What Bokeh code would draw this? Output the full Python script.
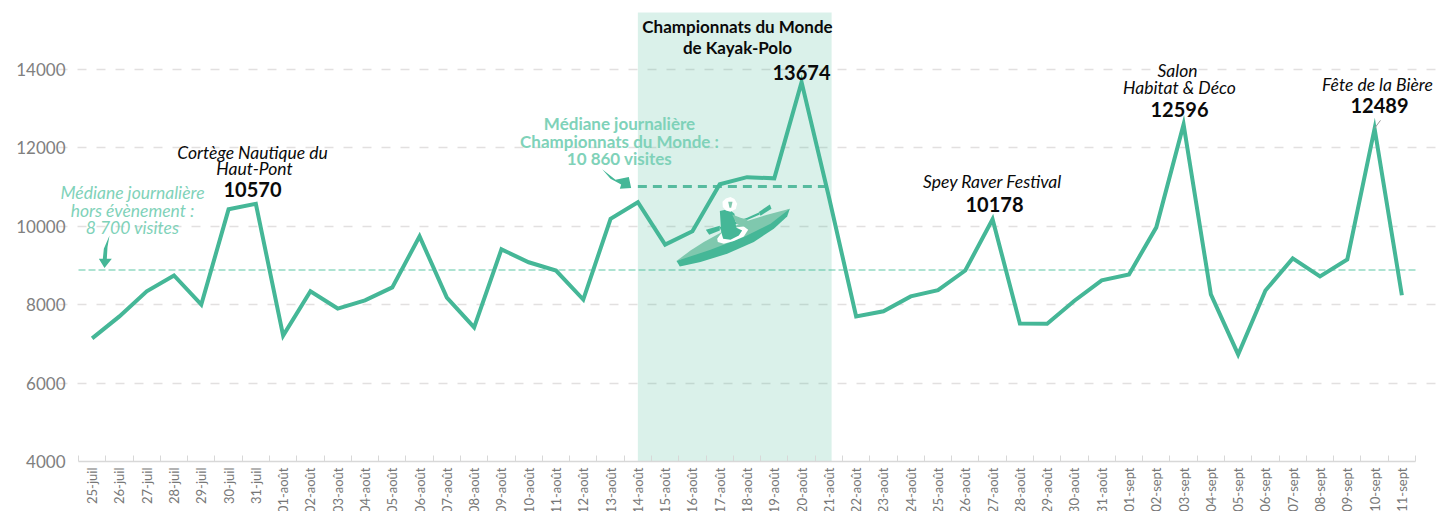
from bokeh.plotting import figure
from bokeh.embed import file_html
from bokeh.resources import INLINE
from bokeh.models import BoxAnnotation, FixedTicker, Label, PolyAnnotation

DATES = ["25-juil","26-juil","27-juil","28-juil","29-juil","30-juil","31-juil",
         "01-août","02-août","03-août","04-août","05-août","06-août","07-août","08-août","09-août","10-août",
         "11-août","12-août","13-août","14-août","15-août","16-août","17-août","18-août","19-août","20-août",
         "21-août","22-août","23-août","24-août","25-août","26-août","27-août","28-août","29-août","30-août","31-août",
         "01-sept","02-sept","03-sept","04-sept","05-sept","06-sept","07-sept","08-sept","09-sept","10-sept","11-sept"]
VISITS = [7140,7700,8340,8745,8000,10430,10570,
          7210,8340,7900,8110,8440,9740,8180,7420,9410,9080,
          8870,8130,10190,10610,9530,9870,11070,11250,11220,13674,
          10750,7700,7830,8210,8370,8870,10178,7520,7510,8100,8620,
          8770,9970,12596,8260,6730,8360,9180,8720,9150,12489,8240]
Y_TICKS = [4000,6000,8000,10000,12000,14000]
MEDIAN_OFF = 8880     # as drawn in the picture
MEDIAN_EVENT = 11015  # as drawn in the picture
EVENT_START, EVENT_END = 20, 27.1

GREEN = "#45b797"
SOFT = "#7fd2b9"
BLACK = "#0a0a0a"
FONT = "Lato"
AXIS_BOUNDS = (-0.5, 48.5)

# The frame runs wider than the axis so that the annotations near the edges are not clipped.
LEFT, RIGHT = 58, 1436
STEP = 27.286
ORIGIN = 91.64


def to_idx(px):
    return (px - ORIGIN) / STEP


def to_val(py):
    return 4000 + (461 - py) / 0.0392


p = figure(frame_width=RIGHT - LEFT, frame_height=451, x_range=(to_idx(LEFT), to_idx(RIGHT)), y_range=(4000, 15500),
           output_backend="svg", toolbar_location=None, min_border_left=LEFT, min_border_top=10,
           min_border_right=0, min_border_bottom=0, outline_line_color=None, background_fill_color="white")

p.xgrid.visible = False
p.ygrid.ticker = FixedTicker(ticks=Y_TICKS[1:])
p.ygrid.bounds = AXIS_BOUNDS
p.ygrid.grid_line_color = "#e2e0e0"
p.ygrid.grid_line_width = 1.5
p.ygrid.grid_line_dash = "9 10"

ax = p.xaxis[0]
ax.bounds = AXIS_BOUNDS
ax.ticker = FixedTicker(ticks=list(range(len(DATES))), minor_ticks=[i - 0.5 for i in range(len(DATES) + 1)])
ax.major_label_overrides = {i: d for i, d in enumerate(DATES)}
ax.major_label_orientation = 1.5708
ax.major_label_text_font = FONT
ax.major_label_text_font_size = "13px"
ax.major_label_text_color = "#777777"
ax.major_label_standoff = 6
ax.major_tick_line_color = None
ax.major_tick_out = 0
ax.minor_tick_in = 6
ax.minor_tick_out = 0
ax.minor_tick_line_color = "#d8d8d8"
ax.axis_line_color = "#d8d8d8"
ax.axis_line_width = 1.5

ay = p.yaxis[0]
ay.ticker = FixedTicker(ticks=Y_TICKS)
ay.axis_line_color = None
ay.major_tick_line_color = None
ay.major_tick_out = 0
ay.minor_tick_line_color = None
ay.major_label_text_font = FONT
ay.major_label_text_font_size = "17px"
ay.major_label_text_color = "#808080"
ay.major_label_standoff = -7

p.add_layout(BoxAnnotation(left=EVENT_START, right=EVENT_END, bottom=4000, top=15450,
                           fill_color=GREEN, fill_alpha=0.2, line_color=None, level="underlay"))
p.line([to_idx(78), to_idx(1417)], [MEDIAN_OFF, MEDIAN_OFF], line_color="#aee3d2", line_width=2,
       line_dash="7 3", level="underlay")
p.line([EVENT_START, 27], [MEDIAN_EVENT, MEDIAN_EVENT], line_color="#57bb9f", line_width=3, line_dash="9 6")
p.line(list(range(len(VISITS))), VISITS, line_color=GREEN, line_width=4, line_join="miter")

TEXTS = [
    ("Championnats du Monde", 737, 26, "bold", BLACK, 17),
    ("de Kayak-Polo", 737, 47, "bold", BLACK, 17),
    ("13674", 801, 72, "bold", BLACK, 20),
    ("Cortège Nautique du", 252, 152, "italic", BLACK, 17.5),
    ("Haut-Pont", 254, 168, "italic", BLACK, 17.5),
    ("10570", 252, 189, "bold", BLACK, 20),
    ("Médiane journalière", 132, 192, "italic", SOFT, 17.5),
    ("hors évènement :", 132, 210, "italic", SOFT, 17.5),
    ("8 700 visites", 132, 227, "italic", SOFT, 17.5),
    ("Médiane journalière", 619, 123, "bold", SOFT, 17),
    ("Championnats du Monde :", 619, 141, "bold", SOFT, 17),
    ("10 860 visites", 619, 158, "bold", SOFT, 17),
    ("Spey Raver Festival", 992, 181, "italic", BLACK, 17.5),
    ("10178", 994, 204, "bold", BLACK, 20),
    ("Salon", 1177, 70, "italic", BLACK, 17.5),
    ("Habitat & Déco", 1179, 87, "italic", BLACK, 17.5),
    ("12596", 1179, 109, "bold", BLACK, 20),
    ("Fête de la Bière", 1377, 84, "italic", BLACK, 17.5),
    ("12489", 1379, 105, "bold", BLACK, 20),
]
for txt, px, py, style, color, size in TEXTS:
    p.add_layout(Label(x=to_idx(px), y=to_val(py), text=txt, text_font=FONT, text_font_style=style,
                       text_font_size=f"{size}px", text_color=color, text_align="center",
                       text_baseline="middle", level="overlay"))

p.line([to_idx(1374), to_idx(1380)], [to_val(128), to_val(120)], line_color="#999999", line_width=1)


def poly(points, ox, oy, color):
    p.add_layout(PolyAnnotation(xs=[to_idx(ox + x / 3) for x, _ in points],
                                ys=[to_val(oy + y / 3) for _, y in points],
                                fill_color=color, fill_alpha=1, line_color=None))


# arrows
poly([(147,135),(130,175),(127,205),(115,205),(132,233),(154,205),(139,205),(141,170)], 60, 190, GREEN)
poly([(305,507),(345,538),(385,530),(392,563),(358,565),(362,552),(330,535)], 500, 0, GREEN)

# kayak illustration
KX, KY = 660, 190
poly([(48,212),(58,228),(120,215),(200,190),(280,155),(340,115),(380,78),(388,55)], KX, KY, "#45b797")
poly([(48,212),(90,180),(130,155),(190,122),(250,95),(320,73),(388,55),(330,100),(250,140),(150,178)], KX, KY, "#7fc8ae")
poly([(136,118),(178,106),(178,120),(146,133)], KX, KY, "#45b797")
poly([(295,65),(328,42),(333,55),(300,76)], KX, KY, "#45b797")
poly([(178,110),(260,82),(295,66),(298,72),(262,88),(180,118)], KX, KY, "#45b797")
poly([(170,145),(185,125),(215,112),(250,108),(263,118),(250,138),(220,152),(190,160),(172,155)], KX, KY, "#ffffff")
poly([(178,62),(205,56),(222,70),(225,100),(228,112),(245,120),(235,135),(210,148),(188,145),(182,125)], KX, KY, "#45b797")
poly([(215,72),(240,82),(262,88),(252,108),(228,100)], KX, KY, "#7fc8ae")
poly([(186,34),(196,24),(210,20),(222,26),(230,40),(226,56),(210,64),(196,60),(187,50)], KX, KY, "#ffffff")
poly([(203,34),(216,34),(212,52),(207,52)], KX, KY, "#7fc8ae")

open("out.html", "w").write(file_html(p, INLINE))
